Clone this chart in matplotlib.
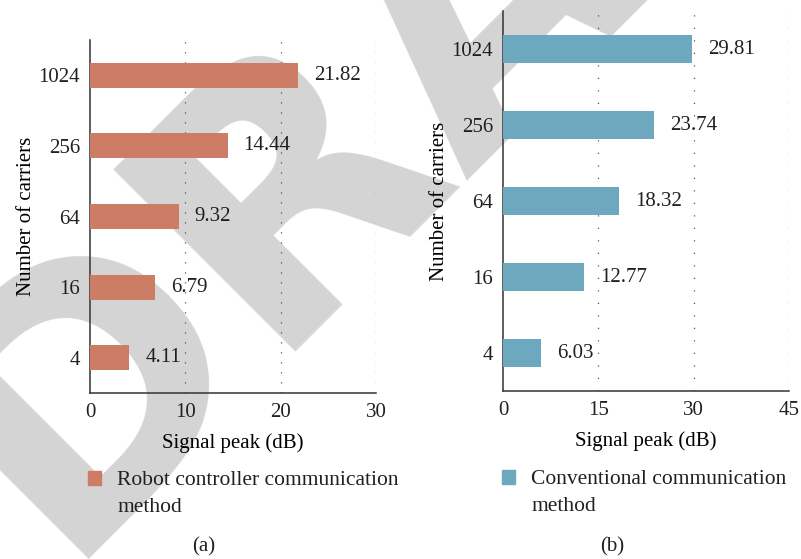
import numpy as np
import matplotlib.pyplot as plt
from matplotlib.patches import Patch

carriers = ['4', '16', '64', '256', '1024']
robot_peak = [4.11, 6.79, 9.32, 14.44, 21.82]
conv_peak = [6.03, 12.77, 18.32, 23.74, 29.81]

plt.rcParams['font.family'] = ['Liberation Serif', 'DejaVu Serif']
plt.rcParams['text.color'] = '#231f20'

fig = plt.figure(figsize=(8.01, 5.59), dpi=100)

# watermark behind everything
fig.text(455 / 801, 1 - 22 / 559, 'DRAFT', rotation=45, fontsize=255, fontweight='bold',
         family='DejaVu Sans', color='#d4d4d4', ha='center', va='center', zorder=-1)


def panel(rect, values, color, xmax, ticks, bar_h, legend_lines, legend_xy, grid_dash):
    ax = fig.add_axes(rect)
    ax.patch.set_alpha(0)
    y = np.arange(len(values))
    ax.barh(y, values, height=bar_h, color=color, zorder=3)
    for yi, v in zip(y, values):
        ax.annotate(f'{v:.2f}', (v, yi), xytext=(11.5, 0), textcoords='offset points',
                    va='center', ha='left', fontsize=15, zorder=4)
    ax.set_xlim(0, xmax)
    ax.set_ylim(-0.5, len(values) - 0.5)
    ax.set_xticks(ticks)
    ax.set_yticks(y)
    ax.set_yticklabels(carriers)
    ax.tick_params(length=0, labelsize=15, colors='#231f20')
    ax.tick_params(axis='x', pad=7)
    ax.tick_params(axis='y', pad=7)
    for s in ['top', 'right']:
        ax.spines[s].set_visible(False)
    for s in ['left', 'bottom']:
        ax.spines[s].set_color('#333333')
        ax.spines[s].set_linewidth(1.1)
    for t in ticks[1:]:
        ax.axvline(t, color='#555555', linewidth=0.9, linestyle=grid_dash, zorder=1)
    ax.set_xlabel('Signal peak (dB)', fontsize=15, labelpad=8)
    ax.set_ylabel('Number of carriers', fontsize=15, labelpad=2)
    leg = ax.legend(handles=[Patch(color=color)], labels=[legend_lines[0]], loc='upper left',
                    bbox_to_anchor=legend_xy, bbox_transform=fig.transFigure, frameon=False,
                    fontsize=15.5, handlelength=0.6, handleheight=0.6, handletextpad=0.75,
                    borderaxespad=0, borderpad=0)
    # second line of the legend label, under the first
    fig.canvas.draw()
    bb = leg.get_texts()[0].get_window_extent()
    fig.text(bb.x0 / fig.bbox.width, (bb.y0 - 27) / fig.bbox.height, legend_lines[1],
             fontsize=15.5, ha='left', va='bottom')
    return ax


panel([90 / 801, 1 - 393 / 559, 286 / 801, 353 / 559], robot_peak, '#cd7d66', 30,
      [0, 10, 20, 30], 0.355, ['Robot controller communication', 'method'],
      (88 / 801, 1 - 471 / 559), (0, (1, 7)))
panel([503 / 801, 1 - 391 / 559, 286 / 801, 380 / 559], conv_peak, '#6ea8be', 45,
      [0, 15, 30, 45], 0.37, ['Conventional communication', 'method'],
      (502 / 801, 1 - 470 / 559), (0, (1, 9)))

fig.text(204 / 801, 1 - 547 / 559, '(a)', fontsize=15, ha='center', va='center')
fig.text(612 / 801, 1 - 547 / 559, '(b)', fontsize=15, ha='center', va='center')

fig.savefig('out.png', dpi=100)
